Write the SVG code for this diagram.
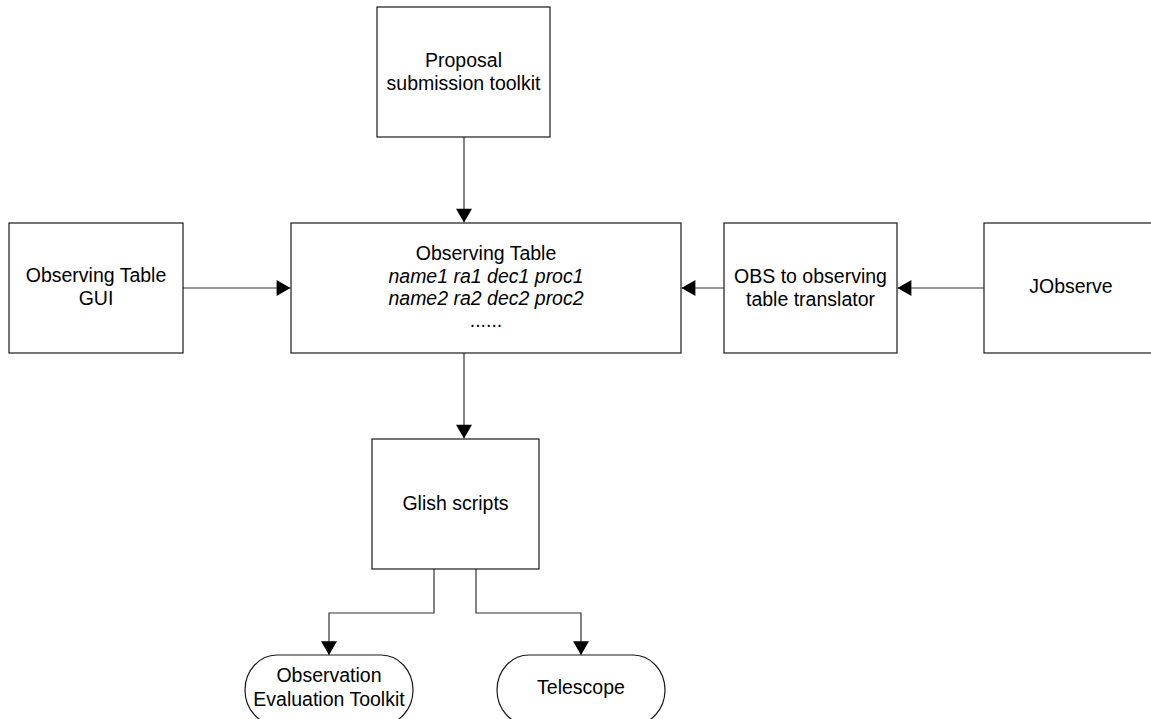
<svg xmlns="http://www.w3.org/2000/svg" width="1151" height="719" viewBox="0 0 1151 719">
  <style>
    .box { fill: #ffffff; stroke: #1a1a1a; stroke-width: 1.2; }
    .lbl { font-family: "Liberation Sans", Arial, sans-serif; font-size: 19.5px; fill: #000000; text-anchor: middle; }
    .it { font-style: italic; }
    .wire { fill: none; stroke: #333333; stroke-width: 1.2; }
  </style>
  <defs>
    <marker id="arrow" markerUnits="userSpaceOnUse" markerWidth="16" markerHeight="16" viewBox="0 0 13 15" refX="13" refY="7.5" orient="auto">
      <path d="M0,0 L13,7.5 L0,15 Z" fill="#000000"/>
    </marker>
  </defs>
  <rect width="1151" height="719" fill="#ffffff"/>

  <!-- connectors -->
  <g id="connectors">
    <path class="wire" d="M464,137 V222.5" marker-end="url(#arrow)"/>
    <path class="wire" d="M183,288 H290.5" marker-end="url(#arrow)"/>
    <path class="wire" d="M724,288 H681.5" marker-end="url(#arrow)"/>
    <path class="wire" d="M984,288 H897.5" marker-end="url(#arrow)"/>
    <path class="wire" d="M464,353 V438.5" marker-end="url(#arrow)"/>
    <path class="wire" d="M434,569 V613 H329 V655" marker-end="url(#arrow)"/>
    <path class="wire" d="M476,569 V613 H581 V655" marker-end="url(#arrow)"/>
  </g>

  <g id="proposal">
    <rect class="box" x="377" y="7" width="173" height="130"/>
    <text class="lbl" x="463.5" y="67">Proposal</text>
    <text class="lbl" x="463.5" y="90">submission toolkit</text>
  </g>

  <g id="table-gui">
    <rect class="box" x="9" y="223" width="174" height="130"/>
    <text class="lbl" x="96" y="282">Observing Table</text>
    <text class="lbl" x="96" y="305">GUI</text>
  </g>

  <g id="observing-table">
    <rect class="box" x="291" y="223" width="390" height="130"/>
    <text class="lbl" x="486" y="260">Observing Table</text>
    <text class="lbl it" x="486" y="283">name1 ra1 dec1 proc1</text>
    <text class="lbl it" x="486" y="305">name2 ra2 dec2 proc2</text>
    <text class="lbl" x="486" y="327">......</text>
  </g>

  <g id="obs-translator">
    <rect class="box" x="724" y="223" width="173" height="130"/>
    <text class="lbl" x="810.5" y="283">OBS to observing</text>
    <text class="lbl" x="810.5" y="306">table translator</text>
  </g>

  <g id="jobserve">
    <rect class="box" x="984" y="223" width="174" height="130"/>
    <text class="lbl" x="1071" y="293">JObserve</text>
  </g>

  <g id="glish">
    <rect class="box" x="372" y="439" width="167" height="130"/>
    <text class="lbl" x="455.5" y="510">Glish scripts</text>
  </g>

  <g id="evaluation-toolkit">
    <rect class="box" x="245" y="655" width="168" height="70" rx="32" ry="36"/>
    <text class="lbl" x="329" y="682">Observation</text>
    <text class="lbl" x="329" y="706">Evaluation Toolkit</text>
  </g>

  <g id="telescope">
    <rect class="box" x="497" y="655" width="168" height="70" rx="32" ry="36"/>
    <text class="lbl" x="581" y="694">Telescope</text>
  </g>
</svg>
